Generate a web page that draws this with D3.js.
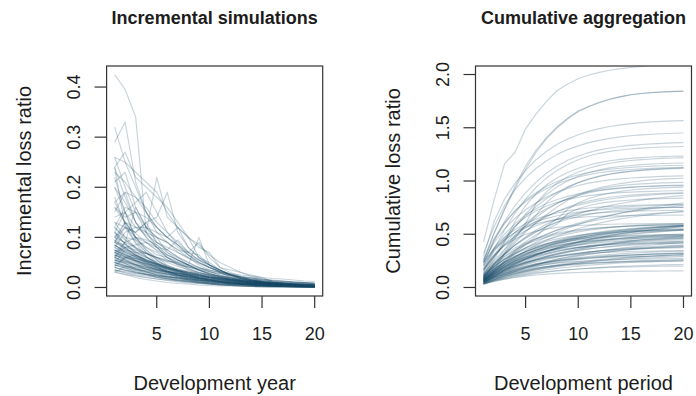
<!DOCTYPE html>
<html>
<head>
<meta charset="utf-8">
<script src="https://cdn.jsdelivr.net/npm/d3@7"></script>
<style>
  html, body { margin: 0; padding: 0; background: #ffffff; }
  svg { display: block; font-family: "Liberation Sans", Arial, Helvetica, sans-serif; }
</style>
</head>
<body>
<svg id="chart" width="696" height="396"></svg>
<script>
// Development periods on the horizontal axis of both panels
const devPeriods = [1,2,3,4,5,6,7,8,9,10,11,12,13,14,15,16,17,18,19,20];

// Simulated incremental loss ratios, one row per simulation path
const incrementalSims = [
  [.425,.395,.340,.110,.220,.140,.120,.100,.060,.050,.035,.025,.020,.015,.012,.010,.008,.006,.005,.004],
  [.260,.250,.230,.210,.190,.150,.120,.100,.080,.070,.040,.035,.030,.025,.020,.012,.008,.006,.004,.003],
  [.240,.270,.220,.200,.180,.160,.130,.100,.085,.065,.050,.040,.030,.022,.018,.012,.009,.006,.004,.003],
  [.290,.330,.210,.150,.120,.100,.080,.065,.050,.040,.032,.025,.020,.015,.012,.009,.007,.005,.004,.003],
  [.320,.250,.200,.150,.110,.090,.070,.060,.045,.035,.030,.022,.018,.014,.011,.008,.006,.005,.004,.003],
  [.170,.190,.180,.160,.130,.110,.090,.070,.055,.045,.035,.025,.018,.013,.010,.008,.006,.004,.003,.002],
  [.230,.210,.180,.150,.120,.100,.085,.065,.055,.040,.032,.025,.018,.014,.011,.008,.006,.005,.004,.003],
  [.120,.160,.150,.140,.120,.100,.085,.070,.055,.045,.035,.025,.018,.013,.010,.008,.006,.004,.003,.002],
  [.260,.200,.150,.110,.085,.070,.055,.045,.035,.028,.022,.017,.013,.010,.008,.006,.005,.004,.003,.002],
  [.100,.130,.120,.120,.110,.100,.120,.080,.060,.045,.035,.026,.020,.015,.011,.008,.006,.005,.004,.003],
  [.240,.180,.130,.100,.080,.065,.055,.045,.035,.028,.022,.017,.013,.010,.008,.006,.005,.004,.003,.002],
  [.080,.110,.120,.110,.100,.090,.075,.070,.065,.045,.035,.025,.018,.013,.010,.007,.005,.004,.003,.002],
  [.200,.170,.130,.100,.080,.060,.048,.038,.030,.024,.019,.015,.012,.009,.007,.006,.005,.004,.003,.002],
  [.140,.150,.120,.105,.090,.075,.062,.050,.040,.032,.025,.019,.014,.010,.008,.006,.004,.003,.002,.002],
  [.060,.090,.100,.095,.085,.065,.055,.045,.100,.045,.030,.020,.014,.010,.008,.006,.004,.003,.002,.002],
  [.220,.150,.100,.075,.055,.042,.033,.025,.019,.015,.012,.009,.007,.005,.004,.003,.003,.002,.002,.001],
  [.090,.120,.100,.090,.075,.065,.055,.045,.035,.025,.020,.015,.011,.008,.006,.005,.004,.003,.002,.002],
  [.170,.130,.100,.075,.060,.045,.035,.027,.021,.016,.012,.009,.007,.005,.004,.003,.002,.002,.001,.001],
  [.045,.038,.030,.027,.021,.018,.014,.012,.010,.009,.007,.006,.005,.004,.003,.003,.002,.002,.002,.001],
  [.040,.034,.029,.025,.021,.018,.015,.013,.011,.009,.008,.007,.006,.005,.004,.003,.003,.003,.002,.002],
  [.050,.040,.032,.026,.020,.016,.013,.011,.008,.007,.005,.004,.003,.003,.002,.002,.001,.001,.001,.001],
  [.035,.030,.026,.023,.020,.017,.015,.013,.011,.010,.009,.008,.007,.006,.005,.004,.004,.003,.003,.002],
  [.055,.048,.037,.032,.025,.022,.018,.015,.013,.010,.009,.007,.006,.005,.004,.003,.003,.002,.002,.002],
  [.060,.048,.038,.031,.025,.020,.016,.013,.010,.008,.006,.005,.004,.003,.003,.002,.002,.001,.001,.001],
  [.050,.043,.036,.031,.026,.022,.019,.016,.014,.012,.010,.008,.007,.006,.005,.004,.004,.003,.003,.002],
  [.045,.039,.034,.030,.026,.022,.020,.017,.015,.013,.011,.010,.008,.007,.006,.006,.005,.004,.004,.003],
  [.065,.054,.045,.037,.031,.026,.021,.018,.015,.012,.010,.008,.007,.006,.005,.004,.003,.003,.002,.002],
  [.070,.056,.045,.036,.029,.023,.018,.015,.012,.009,.007,.006,.005,.004,.003,.002,.002,.002,.001,.001],
  [.060,.051,.043,.037,.031,.027,.023,.019,.016,.014,.012,.010,.009,.007,.006,.005,.004,.004,.003,.003],
  [.055,.048,.042,.036,.032,.027,.024,.021,.018,.016,.014,.012,.010,.009,.008,.007,.006,.005,.005,.004],
  [.075,.062,.052,.043,.036,.030,.025,.020,.017,.014,.012,.010,.008,.007,.006,.005,.004,.003,.003,.002],
  [.085,.068,.054,.044,.035,.028,.022,.018,.014,.011,.009,.007,.006,.005,.004,.003,.002,.002,.002,.001],
  [.070,.060,.051,.043,.037,.031,.026,.022,.019,.016,.014,.012,.010,.008,.007,.006,.005,.004,.004,.003],
  [.060,.052,.045,.040,.034,.030,.026,.023,.020,.017,.015,.013,.011,.010,.009,.007,.006,.006,.005,.004],
  [.085,.071,.059,.049,.040,.033,.028,.023,.019,.016,.013,.011,.009,.008,.006,.005,.004,.004,.003,.002],
  [.095,.076,.061,.049,.039,.031,.025,.020,.016,.013,.010,.008,.007,.005,.004,.003,.003,.002,.002,.001],
  [.075,.064,.054,.046,.039,.033,.028,.024,.020,.017,.015,.013,.011,.009,.008,.007,.006,.005,.004,.003],
  [.070,.061,.053,.046,.040,.035,.030,.026,.023,.020,.017,.015,.013,.011,.010,.009,.008,.007,.006,.005],
  [.095,.079,.065,.054,.045,.037,.031,.026,.021,.018,.015,.012,.010,.008,.007,.006,.005,.004,.003,.003],
  [.110,.088,.070,.056,.045,.036,.029,.023,.018,.015,.012,.009,.008,.006,.005,.004,.003,.003,.002,.002],
  [.085,.072,.061,.052,.044,.038,.032,.027,.023,.020,.017,.014,.012,.010,.009,.007,.006,.005,.005,.004],
  [.075,.065,.057,.049,.043,.037,.033,.028,.025,.021,.019,.016,.014,.012,.011,.009,.008,.007,.006,.005],
  [.105,.087,.072,.060,.050,.041,.034,.028,.024,.020,.016,.014,.011,.009,.008,.006,.005,.004,.004,.003],
  [.120,.096,.077,.061,.049,.039,.031,.025,.020,.016,.013,.010,.008,.007,.005,.004,.003,.003,.002,.002],
  [.090,.077,.065,.055,.047,.040,.034,.029,.024,.021,.018,.015,.013,.011,.009,.008,.007,.006,.005,.004],
  [.080,.070,.061,.053,.046,.040,.035,.030,.026,.023,.020,.017,.015,.013,.011,.010,.009,.008,.007,.006],
  [.130,.101,.079,.062,.048,.038,.029,.023,.018,.014,.011,.008,.007,.005,.004,.003,.002,.002,.001,.001],
  [.030,.026,.023,.020,.017,.015,.013,.011,.010,.009,.007,.006,.006,.005,.004,.004,.003,.003,.002,.002],
  [.065,.055,.047,.040,.034,.029,.025,.021,.018,.015,.013,.011,.009,.008,.007,.006,.005,.004,.004,.003],
  [.080,.066,.055,.046,.038,.032,.026,.022,.018,.015,.012,.010,.009,.007,.006,.005,.004,.003,.003,.002],
  [.100,.080,.064,.051,.041,.033,.026,.021,.017,.013,.011,.009,.007,.006,.004,.004,.003,.002,.002,.001],
  [.040,.035,.030,.026,.023,.020,.017,.015,.013,.011,.010,.009,.008,.007,.006,.005,.004,.004,.003,.003],
  [.180,.126,.088,.062,.043,.030,.021,.015,.010,.007,.005,.004,.003,.002,.001,.001,.001,.000,.000,.000],
  [.200,.150,.095,.070,.048,.034,.024,.017,.012,.008,.006,.004,.003,.002,.002,.001,.001,.001,.001,.000],
  [.035,.029,.024,.020,.017,.014,.011,.009,.008,.007,.005,.005,.004,.003,.003,.002,.002,.001,.001,.001],
  [.110,.086,.067,.052,.041,.032,.025,.019,.015,.012,.009,.007,.006,.004,.003,.003,.002,.002,.001,.001],
  [.055,.044,.035,.028,.023,.018,.014,.012,.009,.007,.006,.005,.004,.003,.002,.002,.002,.001,.001,.001],
  [.065,.057,.049,.043,.037,.032,.028,.025,.021,.019,.016,.014,.012,.011,.009,.008,.007,.006,.005,.005],
  [.032,.026,.020,.016,.013,.010,.008,.007,.005,.004,.003,.003,.002,.002,.001,.001,.001,.001,.001,.000],
  [.050,.075,.070,.060,.052,.044,.037,.031,.026,.021,.018,.015,.012,.010,.008,.007,.006,.005,.004,.003],
  [.040,.060,.065,.055,.048,.040,.033,.028,.023,.019,.016,.013,.011,.009,.007,.006,.005,.004,.003,.003],
  [.090,.130,.100,.080,.070,.055,.048,.038,.030,.025,.020,.016,.013,.010,.008,.006,.005,.004,.003,.002],
  [.150,.190,.130,.110,.080,.060,.045,.035,.027,.020,.016,.012,.009,.007,.005,.004,.003,.003,.002,.002],
  [.240,.120,.090,.070,.055,.042,.032,.025,.019,.015,.011,.009,.007,.005,.004,.003,.002,.002,.001,.001],
  [.070,.090,.160,.120,.090,.075,.060,.050,.040,.032,.025,.020,.015,.012,.009,.007,.005,.004,.003,.002],
  [.110,.150,.170,.190,.150,.110,.085,.065,.050,.040,.030,.023,.017,.013,.010,.007,.005,.004,.003,.002],
  [.040,.035,.031,.027,.024,.021,.019,.016,.014,.013,.011,.010,.009,.008,.007,.006,.005,.005,.004,.004],
  [.050,.044,.039,.034,.030,.026,.023,.020,.018,.016,.014,.012,.011,.010,.008,.007,.006,.006,.005,.004],
  [.060,.053,.046,.041,.036,.032,.028,.025,.022,.019,.017,.015,.013,.011,.010,.009,.008,.007,.006,.005],
  [.070,.062,.054,.048,.042,.037,.032,.029,.025,.022,.020,.017,.015,.013,.012,.010,.009,.008,.007,.006],
  [.045,.041,.036,.033,.030,.027,.024,.022,.019,.017,.016,.014,.013,.011,.010,.009,.008,.008,.007,.006],
  [.055,.050,.045,.040,.036,.032,.029,.026,.024,.021,.019,.017,.016,.014,.013,.011,.010,.009,.008,.007],
  [.065,.059,.053,.047,.043,.038,.035,.031,.028,.025,.023,.020,.018,.017,.015,.013,.012,.011,.010,.009],
  [.035,.032,.028,.026,.023,.021,.019,.017,.015,.014,.012,.011,.010,.009,.008,.007,.006,.006,.005,.005],
  [.045,.060,.058,.052,.047,.042,.037,.033,.029,.026,.023,.020,.018,.016,.014,.012,.011,.010,.009,.008],
  [.060,.080,.075,.068,.060,.053,.047,.041,.036,.032,.028,.024,.021,.019,.016,.014,.012,.011,.010,.008],
  [.100,.090,.080,.068,.060,.055,.045,.041,.036,.030,.028,.024,.021,.019,.016,.014,.013,.011,.010,.009],
  [.120,.100,.095,.080,.065,.060,.052,.045,.040,.034,.030,.026,.022,.020,.017,.015,.013,.011,.010,.008],
  [.090,.085,.070,.068,.060,.052,.050,.043,.038,.035,.031,.028,.025,.023,.020,.018,.017,.015,.013,.012],
  [.160,.140,.150,.120,.100,.090,.075,.060,.050,.040,.032,.026,.020,.016,.012,.010,.008,.006,.005,.004],
  [.210,.230,.160,.120,.100,.070,.060,.045,.035,.028,.022,.017,.013,.010,.008,.006,.005,.004,.003,.002],
  [.130,.120,.110,.130,.090,.080,.070,.058,.048,.040,.033,.027,.022,.018,.014,.011,.009,.007,.005,.004],
  [.100,.120,.110,.130,.140,.190,.110,.080,.060,.045,.035,.027,.020,.015,.011,.008,.006,.005,.004,.003],
  [.070,.080,.085,.090,.080,.075,.095,.070,.090,.060,.040,.030,.022,.016,.012,.009,.007,.005,.004,.003],
  [.090,.080,.064,.056,.048,.040,.034,.030,.025,.021,.018,.015,.013,.011,.009,.008,.007,.006,.005,.004],
  [.110,.095,.080,.068,.058,.050,.042,.036,.030,.026,.022,.019,.016,.013,.011,.010,.008,.007,.006,.005],
  [.030,.042,.040,.037,.034,.031,.028,.025,.022,.020,.018,.016,.014,.012,.011,.010,.009,.008,.007,.006],
  [.050,.043,.037,.032,.028,.024,.020,.018,.015,.013,.011,.010,.008,.007,.006,.005,.005,.004,.003,.003],
  [.075,.066,.058,.051,.045,.040,.035,.031,.027,.024,.021,.018,.016,.014,.013,.011,.010,.009,.008,.007],
  [.085,.073,.063,.054,.047,.040,.034,.030,.026,.022,.019,.016,.014,.012,.010,.009,.008,.007,.006,.005],
  [.160,.130,.108,.090,.073,.060,.050,.041,.034,.028,.023,.019,.015,.013,.010,.009,.007,.006,.005,.004]
];

// Axis ticks and their labels
const periodTicks = [5, 10, 15, 20];
const incTicks = [0, 0.1, 0.2, 0.3, 0.4];
const incTickLabels = ["0.0", "0.1", "0.2", "0.3", "0.4"];
const cumTicks = [0, 0.5, 1, 1.5, 2];
const cumTickLabels = ["0.0", "0.5", "1.0", "1.5", "2.0"];
const cumLimits = [0, 2];

// Running totals of every simulated path
const cumulativeSims = incrementalSims.map(s => Array.from(d3.cumsum(s)));

const LINE_COLOR = "#184a68";
const INK = "#1c1c1c";

// Base-graphics style axis range: data limits widened by 4% on each side
function padded([lo, hi]) {
  const d = (hi - lo) * 0.04;
  return [lo - d, hi + d];
}

const svg = d3.select("#chart");

function drawPanel(cfg) {
  const { id, left, right, top, bottom, series, yLimits, yTicks, yTickLabels, title, xLabel, yLabel } = cfg;

  const x = d3.scaleLinear().domain(padded(d3.extent(devPeriods))).range([left, right]);
  const y = d3.scaleLinear().domain(padded(yLimits)).range([bottom, top]);

  const g = svg.append("g");

  g.append("clipPath").attr("id", id)
    .append("rect")
    .attr("x", left).attr("y", top)
    .attr("width", right - left).attr("height", bottom - top);

  const line = d3.line()
    .x((d, i) => x(devPeriods[i]))
    .y(d => y(d));

  g.append("g").attr("clip-path", `url(#${id})`)
    .selectAll("path")
    .data(series)
    .join("path")
    .attr("d", line)
    .attr("fill", "none")
    .attr("stroke", LINE_COLOR)
    .attr("stroke-opacity", 0.24)
    .attr("stroke-width", 1.15)
    .attr("stroke-linejoin", "round");

  // Plot frame
  g.append("rect")
    .attr("x", left).attr("y", top)
    .attr("width", right - left).attr("height", bottom - top)
    .attr("fill", "none").attr("stroke", "#333").attr("stroke-width", 1.2);

  // Horizontal axis
  const xa = g.append("g");
  xa.selectAll("line").data(periodTicks).join("line")
    .attr("x1", d => x(d)).attr("x2", d => x(d))
    .attr("y1", bottom).attr("y2", bottom + 12)
    .attr("stroke", "#333").attr("stroke-width", 1.2);
  xa.selectAll("text").data(periodTicks).join("text")
    .attr("x", d => x(d)).attr("y", bottom + 44)
    .attr("text-anchor", "middle")
    .attr("font-size", 18).attr("fill", INK)
    .text(d => d);

  // Vertical axis
  const ya = g.append("g");
  ya.selectAll("line").data(yTicks).join("line")
    .attr("x1", left - 12).attr("x2", left)
    .attr("y1", d => y(d)).attr("y2", d => y(d))
    .attr("stroke", "#333").attr("stroke-width", 1.2);
  ya.selectAll("text").data(yTicks).join("text")
    .attr("transform", d => `translate(${left - 27},${y(d)}) rotate(-90)`)
    .attr("text-anchor", "middle")
    .attr("font-size", 18).attr("fill", INK)
    .text((d, i) => yTickLabels[i]);

  // Titles
  g.append("text")
    .attr("x", (left + right) / 2).attr("y", 23.5)
    .attr("text-anchor", "middle")
    .attr("font-size", 18).attr("font-weight", "bold").attr("fill", INK)
    .text(title);
  g.append("text")
    .attr("x", (left + right) / 2).attr("y", 390)
    .attr("text-anchor", "middle")
    .attr("font-size", 20).attr("fill", INK)
    .text(xLabel);
  g.append("text")
    .attr("transform", `translate(${left - 75.5},${(top + bottom) / 2}) rotate(-90)`)
    .attr("text-anchor", "middle")
    .attr("font-size", 20).attr("fill", INK)
    .text(yLabel);
}

drawPanel({
  id: "clip-inc",
  left: 106.6, right: 322.7, top: 66, bottom: 296,
  series: incrementalSims,
  yLimits: d3.extent(incrementalSims.flat()),
  yTicks: incTicks, yTickLabels: incTickLabels,
  title: "Incremental simulations",
  xLabel: "Development year",
  yLabel: "Incremental loss ratio"
});

drawPanel({
  id: "clip-cum",
  left: 475.5, right: 691.5, top: 66, bottom: 296,
  series: cumulativeSims,
  yLimits: cumLimits,
  yTicks: cumTicks, yTickLabels: cumTickLabels,
  title: "Cumulative aggregation",
  xLabel: "Development period",
  yLabel: "Cumulative loss ratio"
});
</script>
</body>
</html>
